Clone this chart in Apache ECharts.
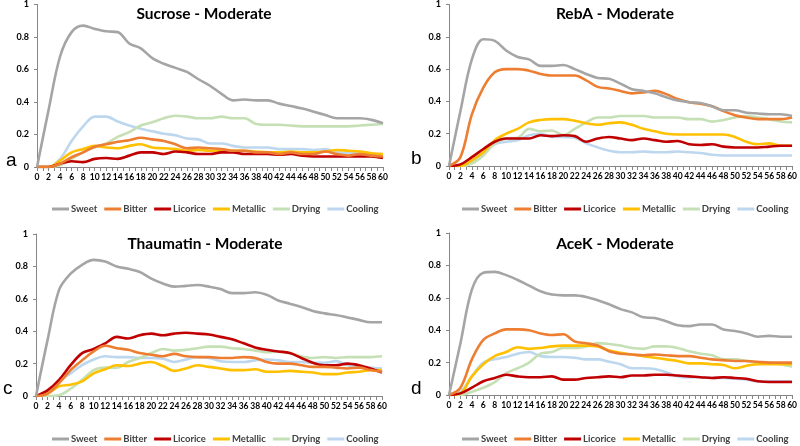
<!DOCTYPE html>
<html><head><meta charset="utf-8">
<script src="https://cdn.jsdelivr.net/npm/echarts@6/dist/echarts.min.js"></script>
<style>html,body{margin:0;padding:0;background:#fff}#c{width:800px;height:446px}</style>
</head><body><div id="c"></div>
<script>
const time = [0,2,4,6,8,10,12,14,16,18,20,22,24,26,28,30,32,34,36,38,40,42,44,46,48,50,52,54,56,58,60];
const attributes = ['Sweet','Bitter','Licorice','Metallic','Drying','Cooling'];
const colors = ['#a5a5a5','#ed7d31','#c00000','#ffc000','#c5e0b4','#bdd7ee'];
const panelTitles = ['Sucrose - Moderate','RebA - Moderate','Thaumatin - Moderate','AceK - Moderate'];
const panelLetters = ['a','b','c','d'];
const yTicks = [0,0.2,0.4,0.6,0.8,1];

// a: Sucrose
const sucSweet    = [0,0.35,0.68,0.83,0.87,0.85,0.835,0.83,0.76,0.73,0.67,0.635,0.61,0.585,0.54,0.50,0.45,0.41,0.415,0.41,0.41,0.39,0.375,0.36,0.34,0.32,0.30,0.30,0.30,0.29,0.27];
const sucBitter   = [0,0,0.02,0.06,0.09,0.125,0.14,0.155,0.165,0.18,0.17,0.16,0.14,0.115,0.12,0.115,0.11,0.10,0.10,0.09,0.09,0.08,0.09,0.08,0.08,0.095,0.08,0.07,0.08,0.07,0.065];
const sucLicorice = [0,0,0.02,0.035,0.03,0.05,0.055,0.05,0.07,0.09,0.09,0.08,0.095,0.09,0.08,0.08,0.09,0.09,0.08,0.08,0.08,0.075,0.08,0.07,0.065,0.065,0.065,0.065,0.065,0.065,0.055];
const sucMetallic = [0,0,0.04,0.09,0.11,0.13,0.12,0.115,0.13,0.14,0.12,0.115,0.11,0.10,0.105,0.10,0.10,0.10,0.10,0.095,0.09,0.09,0.095,0.09,0.09,0.095,0.105,0.10,0.095,0.085,0.08];
const sucDrying   = [0,0,0.01,0.05,0.09,0.12,0.145,0.185,0.215,0.255,0.275,0.30,0.315,0.31,0.30,0.30,0.31,0.30,0.30,0.265,0.26,0.26,0.255,0.25,0.25,0.25,0.25,0.25,0.255,0.26,0.265];
const sucCooling  = [0,0,0.05,0.16,0.25,0.31,0.31,0.28,0.255,0.235,0.22,0.205,0.195,0.175,0.17,0.145,0.145,0.13,0.12,0.12,0.12,0.11,0.11,0.11,0.105,0.11,0.09,0.085,0.085,0.08,0.08];
// b: RebA
const rebSweet    = [0,0.34,0.66,0.785,0.775,0.715,0.675,0.66,0.62,0.62,0.625,0.60,0.57,0.545,0.54,0.51,0.475,0.465,0.45,0.425,0.405,0.395,0.39,0.37,0.345,0.345,0.33,0.325,0.32,0.32,0.31];
const rebBitter   = [0,0.055,0.32,0.485,0.58,0.60,0.60,0.59,0.57,0.56,0.56,0.56,0.53,0.49,0.48,0.465,0.45,0.455,0.465,0.445,0.415,0.395,0.385,0.37,0.34,0.315,0.30,0.29,0.29,0.29,0.30];
const rebLicorice = [0,0.01,0.055,0.105,0.15,0.17,0.17,0.17,0.19,0.185,0.19,0.185,0.15,0.17,0.18,0.17,0.16,0.17,0.16,0.15,0.155,0.135,0.13,0.135,0.12,0.115,0.115,0.115,0.12,0.125,0.125];
const rebMetallic = [0,0,0.035,0.085,0.16,0.20,0.23,0.27,0.285,0.29,0.29,0.28,0.265,0.255,0.265,0.27,0.255,0.23,0.215,0.20,0.195,0.195,0.195,0.195,0.195,0.18,0.15,0.135,0.14,0.125,0.125];
const rebDrying   = [0,0,0.015,0.065,0.14,0.17,0.175,0.23,0.215,0.22,0.19,0.23,0.27,0.30,0.30,0.31,0.31,0.31,0.30,0.30,0.30,0.29,0.29,0.275,0.285,0.30,0.31,0.30,0.29,0.275,0.27];
const rebCooling  = [0,0,0.03,0.08,0.135,0.15,0.16,0.19,0.20,0.18,0.18,0.175,0.14,0.115,0.095,0.085,0.085,0.09,0.085,0.085,0.09,0.085,0.08,0.07,0.065,0.065,0.065,0.065,0.065,0.065,0.065];
// c: Thaumatin
const thaSweet    = [0,0.345,0.655,0.755,0.81,0.84,0.83,0.80,0.785,0.765,0.725,0.695,0.675,0.68,0.685,0.675,0.66,0.635,0.635,0.64,0.625,0.59,0.57,0.55,0.525,0.51,0.50,0.485,0.47,0.455,0.455];
const thaBitter   = [0,0.015,0.08,0.16,0.22,0.275,0.31,0.295,0.285,0.265,0.255,0.245,0.26,0.245,0.24,0.24,0.235,0.235,0.24,0.235,0.21,0.20,0.20,0.19,0.18,0.18,0.175,0.17,0.175,0.16,0.15];
const thaLicorice = [0,0.035,0.10,0.19,0.265,0.29,0.325,0.365,0.355,0.375,0.385,0.375,0.385,0.39,0.385,0.38,0.365,0.35,0.325,0.30,0.285,0.275,0.265,0.235,0.205,0.19,0.19,0.20,0.19,0.17,0.145];
const thaMetallic = [0,0.015,0.06,0.07,0.09,0.14,0.165,0.19,0.185,0.20,0.21,0.185,0.155,0.17,0.19,0.18,0.17,0.16,0.16,0.165,0.15,0.15,0.155,0.15,0.145,0.135,0.135,0.145,0.15,0.16,0.16];
const thaDrying   = [0,0,0.005,0.045,0.10,0.16,0.175,0.175,0.21,0.235,0.265,0.29,0.28,0.285,0.295,0.305,0.305,0.295,0.29,0.28,0.27,0.275,0.265,0.245,0.235,0.24,0.235,0.24,0.24,0.24,0.245];
const thaCooling  = [0,0.025,0.09,0.14,0.19,0.225,0.245,0.24,0.24,0.235,0.235,0.23,0.21,0.225,0.24,0.235,0.215,0.21,0.21,0.22,0.225,0.22,0.21,0.21,0.205,0.205,0.215,0.19,0.18,0.175,0.17];
// d: AceK
const aceSweet    = [0,0.32,0.65,0.755,0.76,0.74,0.71,0.675,0.64,0.62,0.615,0.615,0.605,0.585,0.56,0.53,0.51,0.48,0.475,0.455,0.43,0.425,0.435,0.435,0.405,0.395,0.38,0.36,0.365,0.36,0.36];
const aceBitter   = [0,0.045,0.22,0.34,0.38,0.405,0.405,0.40,0.38,0.37,0.375,0.33,0.32,0.305,0.27,0.255,0.25,0.245,0.25,0.245,0.24,0.24,0.23,0.22,0.215,0.21,0.21,0.205,0.20,0.20,0.20];
const aceLicorice = [0,0.01,0.045,0.085,0.105,0.125,0.115,0.11,0.11,0.115,0.095,0.095,0.105,0.11,0.115,0.11,0.12,0.12,0.125,0.125,0.12,0.115,0.11,0.105,0.11,0.105,0.10,0.085,0.08,0.08,0.08];
const aceMetallic = [0,0.01,0.115,0.19,0.24,0.265,0.295,0.285,0.29,0.30,0.305,0.305,0.305,0.30,0.275,0.26,0.25,0.24,0.23,0.22,0.21,0.195,0.195,0.19,0.185,0.165,0.18,0.19,0.19,0.19,0.19];
const aceDrying   = [0,0,0.02,0.045,0.08,0.135,0.165,0.20,0.255,0.265,0.29,0.29,0.30,0.32,0.315,0.305,0.29,0.285,0.30,0.30,0.29,0.27,0.255,0.245,0.22,0.22,0.21,0.20,0.20,0.19,0.175];
const aceCooling  = [0,0.02,0.115,0.20,0.22,0.235,0.255,0.265,0.24,0.235,0.235,0.23,0.22,0.22,0.205,0.19,0.165,0.165,0.16,0.14,0.115,0.11,0.11,0.105,0.105,0.10,0.095,0.085,0.085,0.085,0.085];

const panels = [
  [sucSweet,sucBitter,sucLicorice,sucMetallic,sucDrying,sucCooling],
  [rebSweet,rebBitter,rebLicorice,rebMetallic,rebDrying,rebCooling],
  [thaSweet,thaBitter,thaLicorice,thaMetallic,thaDrying,thaCooling],
  [aceSweet,aceBitter,aceLicorice,aceMetallic,aceDrying,aceCooling]
];

const FONT = 'Lato, "Liberation Sans", sans-serif';
const grids = [
  {left:37, top:4, width:346, height:163},
  {left:449, top:3, width:344, height:163},
  {left:36, top:234, width:346, height:162},
  {left:449, top:233, width:344, height:162}
];
const titlePos = [[204,14],[615,14],[205,244],[615,244]];
const legendTop = [204,204,434,434];
const legendLeft = [52,462,52,462];
const letterPos = [[6,151],[411,149],[3,379],[411,379]];

const option = {
  animation:false,
  backgroundColor:'#fff',
  grid: grids,
  legend: grids.map((g,i)=>({data:attributes,left:legendLeft[i],top:legendTop[i],width:420,padding:0,
    icon:'rect',itemWidth:17,itemHeight:3,itemGap:7,
    textStyle:{fontFamily:FONT,fontSize:9.5,fontWeight:'bold',color:'#404040',padding:[0,0,0,-3]}})),
  xAxis: grids.map((g,i)=>({type:'value',gridIndex:i,min:0,max:60,interval:2,
    axisLine:{show:true,lineStyle:{color:'#868686',width:1}},
    axisTick:{show:true,length:4,inside:false,lineStyle:{color:'#868686'}},
    minorTick:{show:true,splitNumber:2,length:4,lineStyle:{color:'#868686'}},
    splitLine:{show:false},
    axisLabel:{fontFamily:FONT,fontSize:8.5,fontWeight:'bold',color:'#000',margin:6,showMinLabel:true,showMaxLabel:true}})),
  yAxis: grids.map((g,i)=>({type:'value',gridIndex:i,min:0,max:1,interval:0.2,
    axisLine:{show:true,lineStyle:{color:'#868686',width:1}},
    axisTick:{show:true,length:3,lineStyle:{color:'#868686'}},
    splitLine:{show:false},
    axisLabel:{fontFamily:FONT,fontSize:9,fontWeight:'bold',color:'#000',margin:8,
      formatter:v=>String(Math.round(v*10)/10)}})),
  graphic: panelLetters.map((l,i)=>({type:'text',left:letterPos[i][0],top:letterPos[i][1],
    style:{text:l,fontFamily:'"Liberation Sans",sans-serif',fontSize:19,fill:'#000'}}))
    .concat(panelTitles.map((t,i)=>({type:'text',x:titlePos[i][0],y:titlePos[i][1],z:100,
    style:{text:t,fontFamily:FONT,fontSize:15.5,fontWeight:'bold',fill:'#000',align:'center',verticalAlign:'middle'}}))),
  series: []
};
panels.forEach((p,pi)=>{
  p.forEach((vals,si)=>{
    option.series.push({name:attributes[si],type:'line',xAxisIndex:pi,yAxisIndex:pi,
      smooth:0.35,symbol:'none',data:time.map((t,k)=>[t,vals[k]]),
      lineStyle:{color:colors[si],width:2.6},itemStyle:{color:colors[si]},z:10-si});
  });
});
const chart = echarts.init(document.getElementById('c'),null,{renderer:'canvas'});
chart.setOption(option);
</script></body></html>
